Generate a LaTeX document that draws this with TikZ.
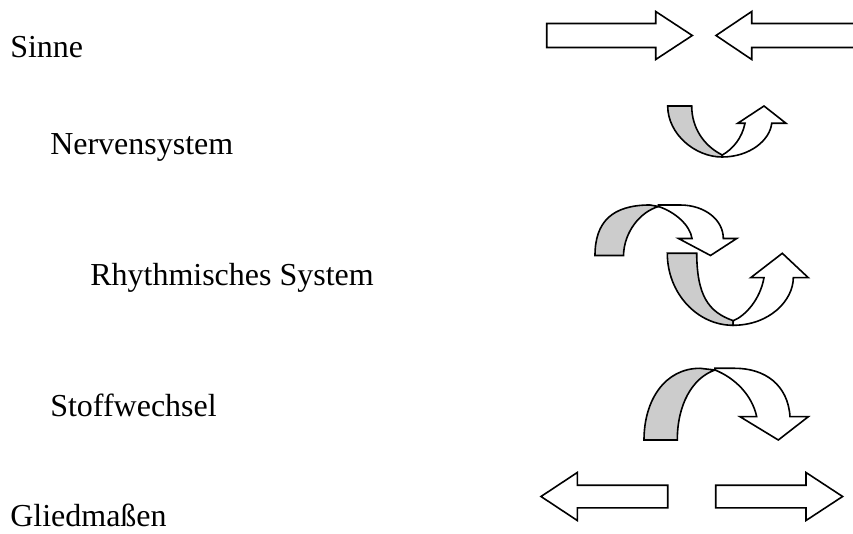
\documentclass[tikz,border=0pt]{standalone}
\usepackage{fontspec}
\setmainfont{Liberation Serif}
\definecolor{bandgray}{HTML}{CCCCCC}
\begin{document}
\begin{tikzpicture}[x=0.75pt,y=-0.75pt,
  lbl/.style={anchor=base west,inner sep=0pt,font=\fontsize{24}{29}\selectfont},
  graypart/.style={draw=black,fill=bandgray,line width=1.2pt,line join=miter},
  whitepart/.style={draw=black,fill=white,line width=1.2pt,line join=miter},
  blockarrow/.style={draw=black,fill=white,line width=1.2pt,line join=miter}]
\useasboundingbox (0,0) rectangle (853,534);
\clip (0,0) rectangle (853,534);
% labels
\node[lbl] (sinne) at (10,57.3) {Sinne};
\node[lbl] (nerv) at (50,155) {Nervensystem};
\node[lbl] (rhythm) at (90,286) {Rhythmisches System};
\node[lbl] (stoff) at (50,416.7) {Stoffwechsel};
\node[lbl] (glied) at (10,526.5) {Gliedmaßen};
% top straight arrows (converging)
\draw[blockarrow] (546.7,23.5) -- (655.7,23.5) -- (655.7,11.5) -- (692.3,35.5) -- (655.7,59.5) -- (655.7,47.5) -- (546.7,47.5) -- cycle;
\draw[blockarrow] (716,35.5) -- (751.7,11.5) -- (751.7,23.5) -- (870,23.5) -- (870,47.5) -- (751.7,47.5) -- (751.7,59.5) -- cycle;
% Nervensystem: curved up arrow
\draw[graypart] (667.7,106) -- (691.7,106) .. controls (691.7,128) and (704,146) .. (722.3,155) -- (722,157) .. controls (695,157) and (667.7,134) .. (667.7,106) -- cycle;
\draw[whitepart] (722.3,155) .. controls (733,149) and (742,138) .. (745,123.3) -- (737.7,123.3) -- (764,106) -- (786,123.3) -- (771.7,123.3) .. controls (770,140) and (750,157) .. (722,157) -- cycle;
% Rhythmisches System: curved down arrow
\draw[graypart] (595,255.5) -- (623.5,255.5) .. controls (624,232) and (640,212) .. (658.5,206.5) -- (650,205) .. controls (612,205) and (595,222) .. (595,255.5) -- cycle;
\draw[whitepart] (658.5,206.5) .. controls (675,212) and (690,225) .. (692,238.5) -- (678.5,238.5) -- (710.5,255.5) -- (736.7,238.5) -- (723.3,238.5) .. controls (723.3,220) and (705,205) .. (680,205) -- (658.5,205) -- cycle;
% Rhythmisches System: curved up arrow
\draw[graypart] (667.3,253.3) -- (696.7,253.3) .. controls (697,295) and (708,312) .. (733.3,320.7) -- (733,325.3) .. controls (697,325.3) and (667.3,293) .. (667.3,253.3) -- cycle;
\draw[whitepart] (733.3,320.7) .. controls (745,316) and (760,300) .. (764,277.7) -- (750.7,277.7) -- (782.3,253.3) -- (808.3,277.7) -- (793.3,277.7) .. controls (793.3,300) and (770,325.3) .. (733,325.3) -- cycle;
% Stoffwechsel: curved down arrow
\draw[graypart] (644,440) -- (677.3,440) .. controls (677.3,405) and (692,378) .. (715,370) -- (700,368.3) .. controls (665,368.3) and (644,400) .. (644,440) -- cycle;
\draw[whitepart] (715,370) .. controls (735,378) and (752,395) .. (756.7,416.7) -- (740,416.7) -- (778.3,440) -- (808.3,416.7) -- (790,416.7) .. controls (788,385) and (765,368.3) .. (735,368.3) -- (715,368.3) -- cycle;
% bottom straight arrows (diverging)
\draw[blockarrow] (541,496.5) -- (577.3,472.5) -- (577.3,485.2) -- (667.7,485.2) -- (667.7,507.8) -- (577.3,507.8) -- (577.3,520.5) -- cycle;
\draw[blockarrow] (715.7,485.2) -- (806,485.2) -- (806,472.5) -- (842.6,496.5) -- (806,520.5) -- (806,507.8) -- (715.7,507.8) -- cycle;
\end{tikzpicture}
\end{document}
